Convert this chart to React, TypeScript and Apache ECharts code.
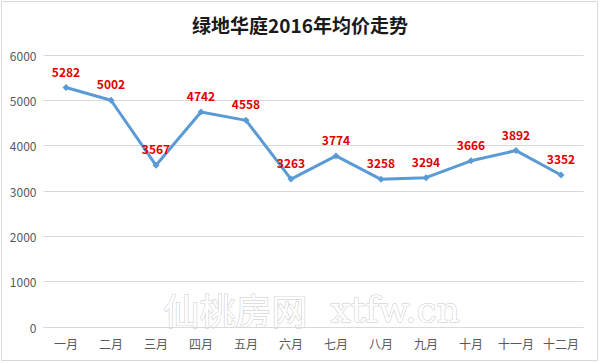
import React, { useEffect, useRef } from "react";
import * as echarts from "echarts";

const categories = ["一月", "二月", "三月", "四月", "五月", "六月", "七月", "八月", "九月", "十月", "十一月", "十二月"];
const prices = [5282, 5002, 3567, 4742, 4558, 3263, 3774, 3258, 3294, 3666, 3892, 3352];
const titleText = "绿地华庭2016年均价走势";
const watermarkCn = "仙桃房网";
const watermarkEn = "xtfw.cn";

export default function App() {
  const ref = useRef<HTMLDivElement>(null);
  useEffect(() => {
    if (!ref.current) return;
    const chart = echarts.init(ref.current, undefined, { renderer: "svg" });
    chart.setOption({
      animation: false,
      backgroundColor: "#ffffff",
      title: {
        text: titleText,
        left: "center",
        top: 10,
        textStyle: { fontSize: 19, fontWeight: "bold", color: "#1a1a1a", fontFamily: "Noto Sans CJK SC" },
      },
      graphic: [
        {
          type: "rect",
          shape: { x: 1.5, y: 1.5, width: 596, height: 359 },
          style: { fill: "none", stroke: "#d9d9d9", lineWidth: 1 },
          silent: true,
        },
        {
          type: "text",
          left: 163,
          top: 290,
          z: -1,
          style: {
            text: watermarkCn,
            font: "36px 'Noto Sans CJK SC'",
            lineHeight: 34,
            fill: "#ffffff",
            stroke: "#c8c8c8",
            lineWidth: 1,
          },
          silent: true,
        },
        {
          type: "text",
          left: 330,
          top: 291,
          z: -1,
          style: {
            text: watermarkEn,
            font: "36px 'DejaVu Serif'",
            lineHeight: 32,
            fill: "#ffffff",
            stroke: "#c8c8c8",
            lineWidth: 1,
          },
          silent: true,
        },
      ],
      grid: { left: 43.5, right: 16.5, top: 55, bottom: 36, containLabel: false },
      xAxis: {
        type: "category",
        data: categories,
        boundaryGap: true,
        axisLine: { show: true, lineStyle: { color: "#d9d9d9" } },
        axisTick: { show: false },
        axisLabel: { color: "#595959", fontSize: 12, margin: 10, interval: 0, fontFamily: "Noto Sans CJK SC" },
      },
      yAxis: {
        type: "value",
        min: 0,
        max: 6000,
        interval: 1000,
        axisLine: { show: false },
        axisTick: { show: false },
        axisLabel: {
          color: "#595959",
          fontSize: 12,
          margin: 7,
          fontFamily: "Noto Sans CJK SC",
          formatter: (v: number) => String(v),
        },
        splitLine: { lineStyle: { color: "#d9d9d9" } },
      },
      series: [
        {
          type: "line",
          data: prices,
          symbol: "diamond",
          symbolSize: 7,
          lineStyle: { color: "#5b9bd5", width: 3 },
          itemStyle: { color: "#5b9bd5" },
          label: {
            show: true,
            position: "top",
            distance: 7,
            color: "#e00000",
            fontWeight: "bold",
            fontSize: 12,
            fontFamily: "Noto Sans CJK SC",
          },
        },
      ],
    });
    return () => chart.dispose();
  }, []);
  return <div ref={ref} style={{ position: "fixed", left: 0, top: 0, width: 600, height: 363 }} />;
}
